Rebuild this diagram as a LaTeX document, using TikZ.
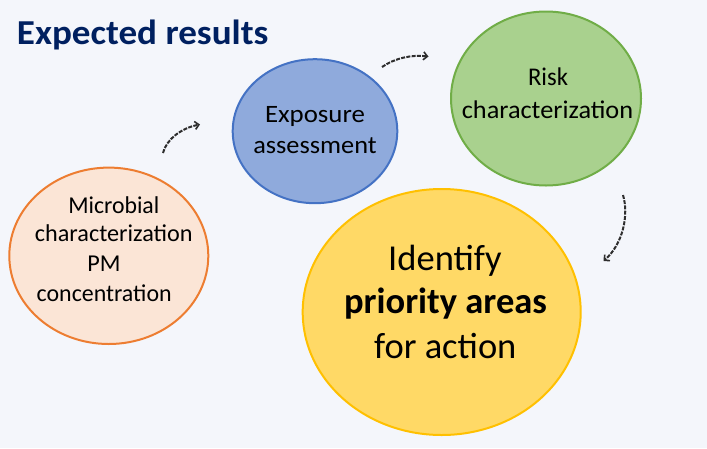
\documentclass[tikz,border=0pt]{standalone}
\usepackage{fontspec}
\setmainfont{Carlito}
\usepackage{graphicx}
\usetikzlibrary{shapes.geometric,arrows.meta}
\definecolor{bg}{RGB}{244,246,251}
\definecolor{titleblue}{HTML}{002060}
\definecolor{orfill}{HTML}{FBE5D6}
\definecolor{ordraw}{HTML}{ED7D31}
\definecolor{blfill}{HTML}{8FAADC}
\definecolor{bldraw}{HTML}{4472C4}
\definecolor{grfill}{HTML}{A9D18E}
\definecolor{grdraw}{HTML}{70AD47}
\definecolor{yefill}{HTML}{FFD966}
\definecolor{yedraw}{HTML}{FFC000}
\definecolor{arrowgray}{HTML}{2E2E2E}
\tikzset{
  bubble/.style={ellipse, line width=2pt, inner sep=0pt, outer sep=0pt},
  txt/.style={inner sep=0pt, outer sep=0pt, anchor=base, text=black},
  flowarrow/.style={draw=arrowgray, line width=2pt, dash pattern=on 4pt off 1.3pt,
    -{Straight Barb[length=4pt,width=8pt,line width=1.6pt]}},
}
\begin{document}
\begin{tikzpicture}[x=1pt,y=-1pt]
\useasboundingbox[fill=bg] (0,0) rectangle (707,448);

% title
\node[inner sep=0pt, anchor=base west, text=titleblue] (title) at (16.7,44.5)
  {\resizebox{251.6pt}{\height}{\fontsize{35}{40}\selectfont\bfseries Expected results}};

% bubbles
\node[bubble, fill=orfill, draw=ordraw, minimum width=199pt, minimum height=176.4pt] (micro) at (108.8,255.8) {};
\node[bubble, fill=blfill, draw=bldraw, minimum width=164.6pt, minimum height=144pt] (expo) at (315,131.2) {};
\node[bubble, fill=grfill, draw=grdraw, minimum width=190pt, minimum height=174pt] (risk) at (546,98.5) {};
\node[bubble, fill=yefill, draw=yedraw, minimum width=278pt, minimum height=246pt] (prio) at (441.7,312) {};

% texts: microbial
\node[txt] (m1) at (113.8,213) {\resizebox{91pt}{\height}{\fontsize{24.2}{28}\selectfont Microbial}};
\node[txt] (m2) at (113.8,241.7) {\resizebox{157.7pt}{\height}{\fontsize{24.2}{28}\selectfont characterization}};
\node[txt] (m3) at (104,271.7) {\fontsize{24.2}{28}\selectfont PM};
\node[txt] (m4) at (104.2,301.7) {\resizebox{135pt}{\height}{\fontsize{24.2}{28}\selectfont concentration}};

% texts: exposure
\node[txt] (e1) at (315,122) {\resizebox{100pt}{\height}{\fontsize{25}{29}\selectfont Exposure}};
\node[txt] (e2) at (315,153.3) {\resizebox{123.4pt}{\height}{\fontsize{25}{29}\selectfont assessment}};

% texts: risk
\node[txt] (r1) at (548,85) {\resizebox{40pt}{\height}{\fontsize{25.5}{29}\selectfont Risk}};
\node[txt] (r2) at (547.5,118.3) {\resizebox{171.3pt}{\height}{\fontsize{25.5}{29}\selectfont characterization}};

% texts: priority
\node[txt] (p1) at (445,270) {\fontsize{36.5}{42}\selectfont Identify};
\node[txt] (p2) at (445.5,313.3) {\fontsize{36.5}{42}\selectfont\bfseries priority areas};
\node[txt] (p3) at (445.3,358.3) {\fontsize{36.5}{42}\selectfont for action};

% arrows
\coordinate (a1s) at (163,153);
\coordinate (a1e) at (200,124.5);
\coordinate (a2s) at (382,67);
\coordinate (a2e) at (428.5,56.5);
\coordinate (a3s) at (623,195);
\coordinate (a3e) at (603.5,261);
\draw[flowarrow] (a1s) .. controls (166,140) and (181,128) .. (a1e);
\draw[flowarrow] (a2s) .. controls (395,58) and (412,54.5) .. (a2e);
\draw[flowarrow] (a3s) .. controls (629,215) and (623,244) .. (a3e);
\end{tikzpicture}
\end{document}
